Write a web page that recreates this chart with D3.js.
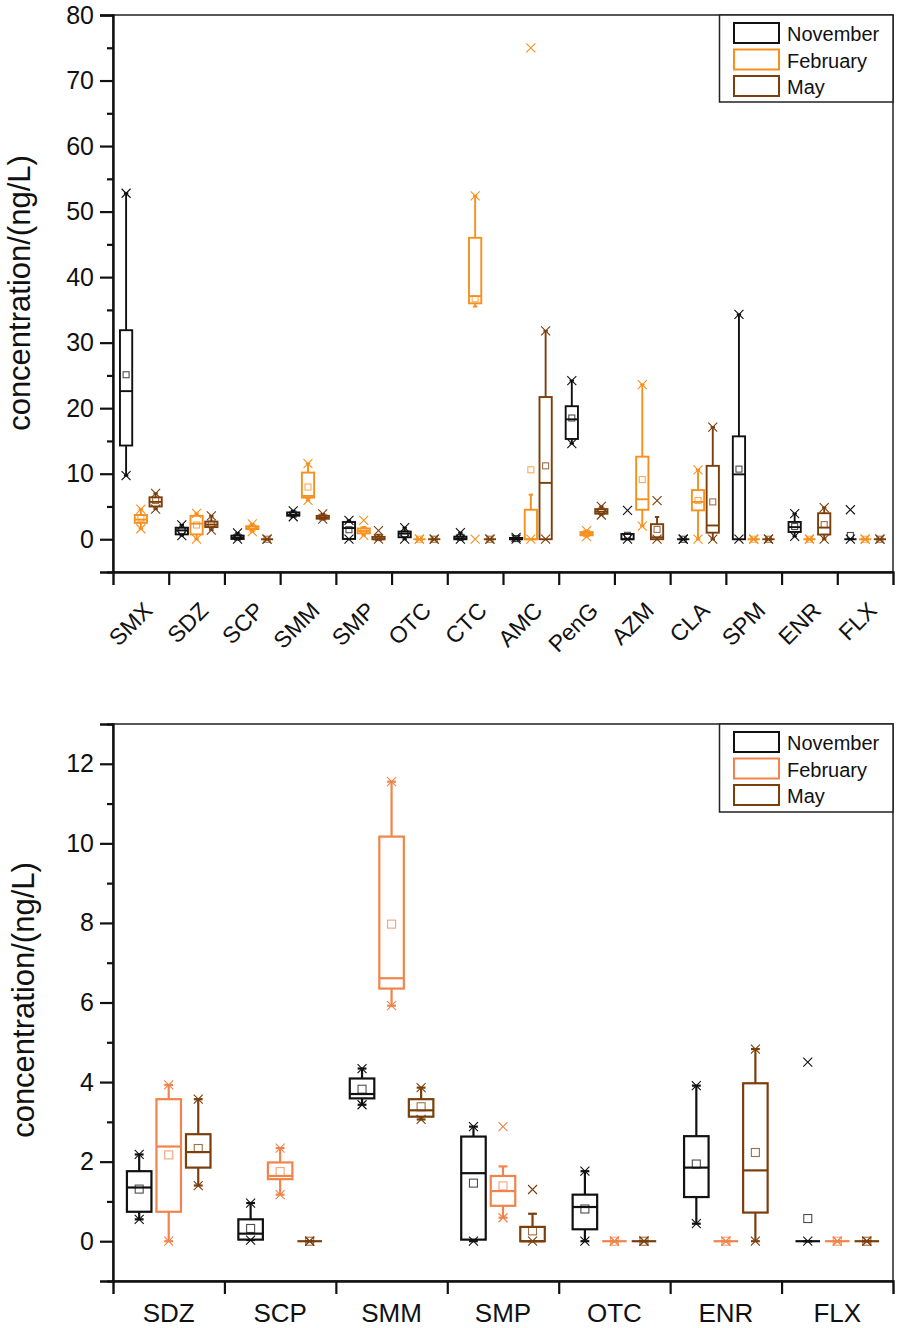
<!DOCTYPE html>
<html><head><meta charset="utf-8">
<script src="https://cdn.jsdelivr.net/npm/d3@7"></script>
<style>
html,body{margin:0;padding:0;background:#fff;}
svg{display:block;font-family:"Liberation Sans",Arial,sans-serif;}
</style></head>
<body>
<svg id="c" width="898" height="1328"></svg>
<script>
// ---------- DATA ----------
const categoriesTop = ["SMX","SDZ","SCP","SMM","SMP","OTC","CTC","AMC","PenG","AZM","CLA","SPM","ENR","FLX"];
const categoriesBottom = ["SDZ","SCP","SMM","SMP","OTC","ENR","FLX"];
const seasons = ["November","February","May"];
// each entry: [whiskerLow, q1, median, q3, whiskerHigh, mean, min, max]
const statKeys = ["wLow","q1","median","q3","wHigh","mean","min","max"];
const november = [
  [9.7, 14.3, 22.6, 31.9, 52.8, 25.1, 9.7, 52.8],   // SMX
  [0.55, 0.74, 1.35, 1.76, 2.18, 1.31, 0.55, 2.18], // SDZ
  [0.03, 0.04, 0.19, 0.55, 0.96, 0.32, 0.03, 0.96], // SCP
  [3.43, 3.59, 3.70, 4.09, 4.34, 3.82, 3.43, 4.34], // SMM
  [0, 0.04, 1.71, 2.63, 2.88, 1.46, 0, 2.88],       // SMP
  [0, 0.30, 0.86, 1.17, 1.76, 0.81, 0, 1.76],       // OTC
  [0, 0, 0.1, 0.4, 1.0, 0.3, 0, 1.0],               // CTC
  [0, 0, 0, 0.2, 0.2, 0.1, 0, 0.3],                 // AMC
  [14.6, 15.3, 18.3, 20.3, 24.2, 18.5, 14.6, 24.2], // PenG
  [0, 0, 0, 0.8, 0.8, 0.6, 0, 4.4],                 // AZM
  [0, 0, 0, 0, 0, 0, 0, 0],                         // CLA
  [0, 0, 9.9, 15.7, 34.3, 10.7, 0, 34.3],           // SPM
  [0.44, 1.11, 1.85, 2.64, 3.91, 1.94, 0.44, 3.91], // ENR
  [0, 0, 0, 0, 0, 0.57, 0, 4.50]                    // FLX
];
const february = [
  [1.6, 2.5, 3.0, 3.7, 4.6, 3.2, 1.6, 4.6],
  [0, 0.74, 2.38, 3.57, 3.93, 2.17, 0, 3.93],
  [1.17, 1.56, 1.64, 1.98, 2.34, 1.75, 1.17, 2.34],
  [5.92, 6.35, 6.61, 10.17, 11.55, 7.97, 5.92, 11.55],
  [0.59, 0.89, 1.26, 1.64, 1.88, 1.39, 0.59, 2.88],
  [0, 0, 0, 0, 0, 0, 0, 0],
  [35.5, 36.0, 37.1, 46.0, 52.4, 36.7, 0, 52.4],
  [0, 0, 0, 4.5, 6.8, 10.6, 0, 75.0],
  [0.4, 0.6, 0.85, 1.1, 1.3, 0.9, 0.4, 1.3],
  [2.0, 4.5, 6.1, 12.6, 23.6, 9.1, 2.0, 23.6],
  [0, 4.4, 5.7, 7.5, 10.6, 5.9, 0, 10.6],
  [0, 0, 0, 0, 0, 0, 0, 0],
  [0, 0, 0, 0, 0, 0, 0, 0],
  [0, 0, 0, 0, 0, 0, 0, 0]
];
const may = [
  [4.6, 5.0, 5.7, 6.4, 7.0, 5.9, 4.6, 7.0],
  [1.40, 1.85, 2.24, 2.69, 3.57, 2.33, 1.40, 3.57],
  [0, 0, 0, 0, 0, 0, 0, 0],
  [3.06, 3.13, 3.29, 3.57, 3.86, 3.38, 3.06, 3.86],
  [0, 0, 0, 0.36, 0.69, 0.26, 0, 1.30],
  [0, 0, 0, 0, 0, 0, 0, 0],
  [0, 0, 0, 0, 0, 0, 0, 0],
  [0, 0, 8.6, 21.7, 31.8, 11.2, 0, 31.8],
  [3.7, 3.9, 4.2, 4.6, 5.0, 4.3, 3.7, 5.0],
  [0, 0, 0.3, 2.3, 3.4, 1.5, 0, 5.9],
  [0, 1.0, 2.1, 11.2, 17.1, 5.7, 0, 17.1],
  [0, 0, 0, 0, 0, 0, 0, 0],
  [0, 0.72, 1.78, 3.97, 4.83, 2.23, 0, 4.83],
  [0, 0, 0, 0, 0, 0, 0, 0]
];
const yTicksTop = [0,10,20,30,40,50,60,70,80];
const yMinorTop = [-5,5,15,25,35,45,55,65,75];
const yTicksBottom = [0,2,4,6,8,10,12];
const yMinorBottom = [-1,1,3,5,7,9,11,13];
const yTitle = "concentration/(ng/L)";

// ---------- DRAW ----------
const svg = d3.select("#c");
const seriesData = [november, february, may];

function rec(arr){ const o={}; statKeys.forEach((k,i)=>o[k]=arr[i]); return o; }

function drawPanel(opt){
  const g = svg.append("g");
  const {left,right,top,bottom,cats,yDomain,majors,minors,colors,big} = opt;
  const x = d3.scaleBand().domain(cats).range([left,right]).paddingInner(0).paddingOuter(0);
  const xIdx = d3.scaleLinear().domain([0,cats.length]).range([left,right]);
  const y = d3.scaleLinear().domain(yDomain).range([bottom,top]);
  const bw = x.bandwidth();
  const inner = d3.scalePoint().domain(seasons).range([0.235*bw, 0.765*bw]);
  const boxW = 0.22*bw;
  const sw = big ? 2.2 : 1.9;
  const xs = big ? 4.5 : 4.5;
  const ms = big ? 4 : 3;

  // frame
  g.append("rect").attr("x",left).attr("y",top).attr("width",right-left).attr("height",bottom-top)
   .attr("fill","none").attr("stroke","#222").attr("stroke-width",1.5);

  // boxes
  seasons.forEach((s,si)=>{
    const col = colors[si];
    cats.forEach(c=>{
      const idx = categoriesTop.indexOf(c);
      const d = rec(seriesData[si][idx]);
      const cx = x(c) + inner(s);
      const bg = g.append("g").attr("stroke",col).attr("fill","none").attr("stroke-width",sw);
      bg.append("line").attr("x1",cx).attr("x2",cx).attr("y1",y(d.q3)).attr("y2",y(d.wHigh));
      bg.append("line").attr("x1",cx).attr("x2",cx).attr("y1",y(d.q1)).attr("y2",y(d.wLow));
      [d.wHigh,d.wLow].forEach(v=>{
        bg.append("line").attr("x1",cx-boxW*0.18).attr("x2",cx+boxW*0.18).attr("y1",y(v)).attr("y2",y(v));
      });
      bg.append("rect").attr("x",cx-boxW/2).attr("width",boxW)
        .attr("y",y(d.q3)).attr("height",Math.max(0,y(d.q1)-y(d.q3))).attr("fill","white");
      bg.append("line").attr("x1",cx-boxW/2).attr("x2",cx+boxW/2).attr("y1",y(d.median)).attr("y2",y(d.median));
      bg.append("rect").attr("x",cx-ms).attr("y",y(d.mean)-ms).attr("width",2*ms).attr("height",2*ms)
        .attr("stroke-width",1.1).attr("stroke-opacity",0.75);
      [d.min,d.max].forEach(v=>{
        const yy=y(v);
        bg.append("path").attr("d",`M${cx-xs},${yy-xs}L${cx+xs},${yy+xs}M${cx-xs},${yy+xs}L${cx+xs},${yy-xs}`)
          .attr("stroke-width",1.1);
      });
    });
  });

  // y axis
  const ya = g.append("g").attr("transform",`translate(${left},0)`)
    .call(d3.axisLeft(y).tickValues(majors).tickSize(13).tickPadding(6).tickFormat(d3.format("d")));
  ya.select(".domain").attr("stroke","#111").attr("stroke-width",2.4);
  ya.selectAll(".tick line").attr("stroke","#111").attr("stroke-width",2.2);
  ya.selectAll(".tick text").attr("font-size",25).attr("fill","#111")
    .attr("font-family","'Liberation Sans',Arial,sans-serif");
  const ym = g.append("g").attr("transform",`translate(${left},0)`)
    .call(d3.axisLeft(y).tickValues(minors).tickSize(6).tickFormat(""));
  ym.select(".domain").remove();
  ym.selectAll(".tick line").attr("stroke","#111").attr("stroke-width",2.2);

  // x axis
  const xa = g.append("g").attr("transform",`translate(0,${bottom})`)
    .call(d3.axisBottom(xIdx).tickValues(d3.range(1,cats.length)).tickSize(13).tickFormat(""));
  xa.select(".domain").attr("stroke","#111").attr("stroke-width",2.4);
  xa.selectAll(".tick line").attr("stroke","#111").attr("stroke-width",2.2);

  // x labels
  if(opt.rotate){
    g.selectAll(".xl").data(cats).enter().append("text")
      .attr("transform",d=>`translate(${x(d)+bw/2+13},${bottom+40}) rotate(-45)`)
      .attr("text-anchor","end").attr("font-size",23).attr("fill","#111").text(d=>d);
  } else {
    g.selectAll(".xl").data(cats).enter().append("text")
      .attr("x",d=>x(d)+bw/2).attr("y",bottom+41)
      .attr("text-anchor","middle").attr("font-size",26).attr("fill","#111").text(d=>d);
  }

  // y title
  g.append("text").attr("transform",`translate(${opt.titleX},${opt.titleY}) rotate(-90)`)
    .attr("text-anchor","middle").attr("font-size",31).attr("fill","#111").text(yTitle);

  // legend
  const lx = 719.5, ly = top, lw = right-lx, lh = big ? 88 : 87;
  g.append("rect").attr("x",lx).attr("y",ly).attr("width",lw).attr("height",lh)
    .attr("fill","white").attr("stroke","#222").attr("stroke-width",1.5);
  seasons.forEach((s,i)=>{
    const yy = ly + 8 + i*26.5;
    g.append("rect").attr("x",734).attr("y",yy).attr("width",45).attr("height",20)
      .attr("fill","white").attr("stroke",colors[i]).attr("stroke-width",2);
    g.append("text").attr("x",787).attr("y",yy+18).attr("font-size",20).attr("fill","#111").text(s);
  });
}

drawPanel({left:113,right:893,top:15,bottom:572,cats:categoriesTop,yDomain:[-5,80],
  majors:yTicksTop,minors:yMinorTop,colors:["#111111","#f7901e","#7b3f0c"],big:false,rotate:true,
  titleX:30,titleY:293});
drawPanel({left:113,right:893,top:724,bottom:1281,cats:categoriesBottom,yDomain:[-1,13],
  majors:yTicksBottom,minors:yMinorBottom,colors:["#111111","#f0844a","#7b3f0c"],big:true,rotate:false,
  titleX:34,titleY:1000});
</script>
</body></html>
